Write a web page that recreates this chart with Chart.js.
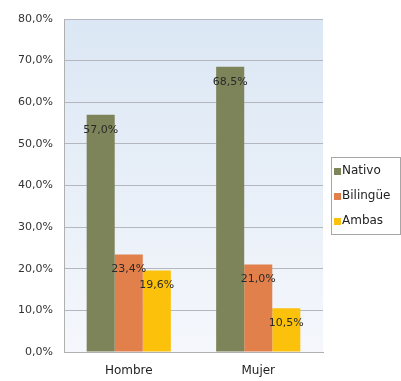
<!DOCTYPE html>
<html>
<head>
<meta charset="utf-8">
<script src="https://cdn.jsdelivr.net/npm/chart.js@4/dist/chart.umd.min.js"></script>
<style>
  html, body { margin: 0; padding: 0; background: #fff; }
  #wrap { width: 401px; height: 381px; position: relative; }
</style>
</head>
<body>
<div id="wrap"><canvas id="chart"></canvas></div>
<script>
const categories = ['Hombre', 'Mujer'];
const seriesNames = ['Nativo', 'Bilingüe', 'Ambas'];
const nativo = [57.0, 68.5];
const bilingue = [23.4, 21.0];
const ambas = [19.6, 10.5];
const yTicks = [0, 10, 20, 30, 40, 50, 60, 70, 80];

const COLORS = ['#7e8459', '#e2804b', '#fcc10a'];
const FONT = "'DejaVu Sans', sans-serif";

const pct = v => v.toFixed(1).replace('.', ',') + '%';

// plot area background: light blue fading to white
const plotBg = {
  id: 'plotBg',
  beforeDraw(chart) {
    const { ctx, chartArea: a } = chart;
    const g = ctx.createLinearGradient(0, a.top, 0, a.bottom);
    g.addColorStop(0, '#dbe7f4');
    g.addColorStop(1, '#f5f7fc');
    ctx.save();
    ctx.fillStyle = g;
    ctx.fillRect(a.left, a.top, a.right - a.left, a.bottom - a.top);
    ctx.restore();
  }
};

// value text just under the top of each bar
const barValues = {
  id: 'barValues',
  afterDatasetsDraw(chart) {
    const { ctx } = chart;
    ctx.save();
    ctx.font = '11px ' + FONT;
    ctx.fillStyle = '#2a2a2a';
    ctx.textAlign = 'center';
    ctx.textBaseline = 'middle';
    chart.data.datasets.forEach((ds, i) => {
      chart.getDatasetMeta(i).data.forEach((bar, j) => {
        ctx.fillText(pct(ds.data[j]), bar.x, bar.y + 15);
      });
    });
    ctx.restore();
  }
};

// boxed legend to the right of the plot
const boxLegend = {
  id: 'boxLegend',
  afterDraw(chart) {
    const { ctx, chartArea: a } = chart;
    const x = a.right + 8, y = 157, w = 69, h = 77;
    ctx.save();
    ctx.fillStyle = '#ffffff';
    ctx.fillRect(x, y, w, h);
    ctx.strokeStyle = '#a6a6a6';
    ctx.lineWidth = 1;
    ctx.strokeRect(x + 0.5, y + 0.5, w, h);
    ctx.font = '12px ' + FONT;
    ctx.textBaseline = 'middle';
    chart.data.datasets.forEach((ds, i) => {
      const cy = y + 14 + i * 25;
      ctx.fillStyle = ds.backgroundColor;
      ctx.fillRect(x + 3, cy - 3, 7, 7);
      ctx.fillStyle = '#222';
      ctx.fillText(ds.label, x + 11, cy);
    });
    ctx.restore();
  }
};

new Chart(document.getElementById('chart'), {
  type: 'bar',
  data: {
    labels: categories,
    datasets: [nativo, bilingue, ambas].map((d, i) => ({
      label: seriesNames[i],
      data: d,
      backgroundColor: COLORS[i],
      borderWidth: 0,
      barPercentage: 1,
      categoryPercentage: 0.65,
    })),
  },
  options: {
    responsive: true,
    maintainAspectRatio: false,
    animation: false,
    layout: { padding: { top: 19, right: 78, bottom: 0, left: 0 } },
    plugins: {
      legend: { display: false },
      tooltip: { enabled: false },
    },
    scales: {
      x: {
        grid: { display: false, drawTicks: false },
        border: { color: '#b0b0b0' },
        ticks: { color: '#1e1e1e', font: { family: FONT, size: 12 }, padding: 12 },
        afterFit: s => { s.height = 29; },
      },
      y: {
        min: 0,
        max: 80,
        afterBuildTicks: s => { s.ticks = yTicks.map(v => ({ value: v })); },
        grid: { color: '#b4b8be', drawTicks: false },
        border: { color: '#b0b0b0' },
        ticks: {
          color: '#333',
          font: { family: FONT, size: 11 },
          padding: 11,
          callback: v => pct(v),
        },
        afterFit: s => { s.width = 64; },
      },
    },
  },
  plugins: [plotBg, barValues, boxLegend],
});
</script>
</body>
</html>
